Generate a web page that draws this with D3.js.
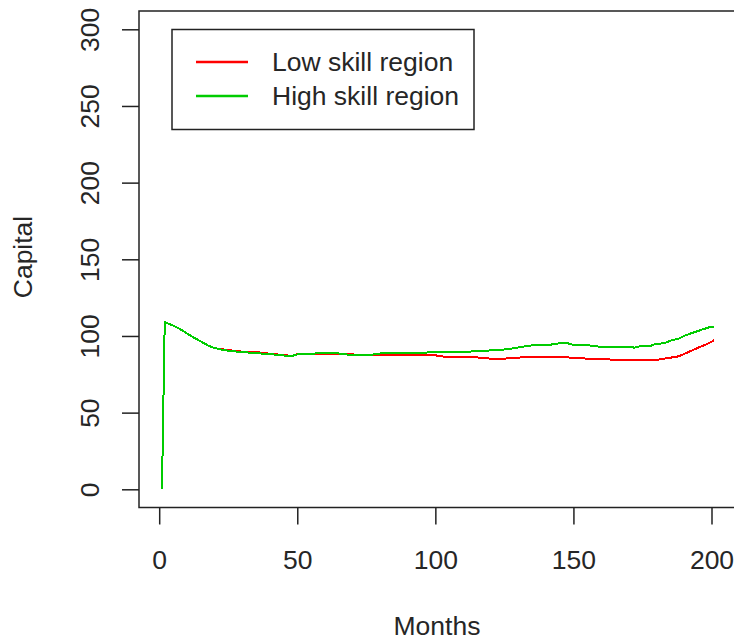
<!DOCTYPE html>
<html>
<head>
<meta charset="utf-8">
<script src="https://cdn.jsdelivr.net/npm/d3@7"></script>
<style>
  body { margin: 0; background: #fff; }
  text { font-family: "Liberation Sans", Arial, Helvetica, sans-serif; fill: #262626; }
</style>
</head>
<body>
<div id="chart"></div>
<script>
const SVG_WIDTH = 734;
const SVG_HEIGHT = 640;
const BOX = { left: 139, right: 737, top: 11, bottom: 507.5 };

const SERIES_NAMES = ["Low skill region", "High skill region"];
const SERIES_COLORS = ["#ff0000", "#00cc00"];
const X_TICKS = [0, 50, 100, 150, 200];
const Y_TICKS = [0, 50, 100, 150, 200, 250, 300];

const months = [1, 2, 4, 6, 8, 10, 12, 14, 16, 18, 20, 22, 25, 30, 35, 40, 45, 48, 50, 55,
  60, 65, 70, 75, 80, 85, 90, 95, 100, 102, 105, 110, 115, 120, 125, 128, 131, 135, 140, 145,
  148, 150, 155, 158, 160, 165, 170, 172, 175, 178, 180, 183, 185, 188, 190, 193, 196, 199, 201];

const lowSkill = [0, 109, 107.5, 106, 104, 101.7, 99.5, 97.5, 95.5, 93.5, 92.2, 91.5, 90.8, 89.8, 89.5, 88.4, 87.6, 87, 88.2, 88.4,
  88.5, 88.4, 88, 87.3, 87.3, 87.3, 87.3, 87.4, 87.4, 86.7, 86.3, 86.2, 86, 85.2, 85.2, 85.6, 86, 86, 86, 86,
  86, 85.8, 85.2, 85.2, 85.2, 84.3, 84.3, 84.3, 84.3, 84.3, 84.3, 85.3, 85.8, 86.7, 88.2, 90.6, 93, 95.2, 97.3];

const highSkill = [0, 109, 107.5, 106, 104, 101.7, 99.5, 97.5, 95.5, 93.5, 92.2, 91.3, 90.4, 89.5, 88.8, 88.2, 87.3, 86.9, 88, 88.4,
  89, 88.6, 87.5, 87.3, 88.6, 88.6, 88.6, 89, 89.5, 89.7, 89.7, 89.7, 90, 90.6, 91.2, 91.9, 92.8, 93.9, 93.9, 95.2,
  95.2, 94.1, 94.1, 93.2, 93, 93, 93, 92.4, 93.6, 93.6, 94.9, 95.2, 96.9, 98.2, 100, 102, 103.8, 105.6, 106];

const FONT_SIZE = 26.5;

const svg = d3.select("#chart")
  .append("svg")
  .attr("width", SVG_WIDTH)
  .attr("height", SVG_HEIGHT);

const xScale = d3.scaleLinear()
  .domain([0, 200])
  .range([159.2, 711.5]);

const yScale = d3.scaleLinear()
  .domain([0, 300])
  .range([489.3, 29.3]);

// plot box
svg.append("rect")
  .attr("x", BOX.left)
  .attr("y", BOX.top)
  .attr("width", BOX.right - BOX.left)
  .attr("height", BOX.bottom - BOX.top)
  .attr("fill", "none")
  .attr("stroke", "#222")
  .attr("stroke-width", 1.5);

const xAxis = svg.append("g")
  .attr("transform", `translate(0,${BOX.bottom})`)
  .call(d3.axisBottom(xScale).tickValues(X_TICKS).tickSize(17).tickSizeOuter(0));
xAxis.select(".domain").remove();
xAxis.selectAll(".tick line").attr("stroke", "#222").attr("stroke-width", 1.5);
xAxis.selectAll(".tick text")
  .attr("y", 52.5)
  .attr("dy", "0.35em")
  .style("font-size", FONT_SIZE + "px")
  .style("font-family", null);

const yAxis = svg.append("g")
  .attr("transform", `translate(${BOX.left},0)`)
  .call(d3.axisLeft(yScale).tickValues(Y_TICKS).tickSize(17).tickSizeOuter(0));
yAxis.select(".domain").remove();
yAxis.selectAll(".tick line").attr("stroke", "#222").attr("stroke-width", 1.5);
yAxis.selectAll(".tick text")
  .attr("x", null)
  .attr("dy", null)
  .attr("transform", "translate(-49,0) rotate(-90)")
  .attr("text-anchor", "middle")
  .attr("dominant-baseline", "central")
  .style("font-size", FONT_SIZE + "px")
  .style("font-family", null);

// axis titles
svg.append("text")
  .attr("x", 437)
  .attr("y", 635)
  .attr("text-anchor", "middle")
  .style("font-size", FONT_SIZE + "px")
  .text("Months");

svg.append("text")
  .attr("transform", "translate(23,257) rotate(-90)")
  .attr("text-anchor", "middle")
  .attr("dominant-baseline", "central")
  .style("font-size", FONT_SIZE + "px")
  .text("Capital");

// series, drawn aliased like the original bitmap
const line = d3.line()
  .x((d, i) => xScale(months[i]))
  .y(d => yScale(d));

[lowSkill, highSkill].forEach((values, i) => {
  svg.append("path")
    .datum(values)
    .attr("d", line)
    .attr("fill", "none")
    .attr("stroke", SERIES_COLORS[i])
    .attr("stroke-width", 2)
    .attr("shape-rendering", "crispEdges");
});

// legend
const legend = svg.append("g");
legend.append("rect")
  .attr("x", 172)
  .attr("y", 29.5)
  .attr("width", 302)
  .attr("height", 100)
  .attr("fill", "#fff")
  .attr("stroke", "#222")
  .attr("stroke-width", 1.5);

SERIES_NAMES.forEach((name, i) => {
  const y = 62 + i * 34;
  legend.append("line")
    .attr("x1", 196)
    .attr("x2", 248)
    .attr("y1", y)
    .attr("y2", y)
    .attr("stroke", SERIES_COLORS[i])
    .attr("stroke-width", 2.5);
  legend.append("text")
    .attr("x", 272)
    .attr("y", y)
    .attr("dominant-baseline", "central")
    .style("font-size", FONT_SIZE + "px")
    .text(name);
});
</script>
</body>
</html>
